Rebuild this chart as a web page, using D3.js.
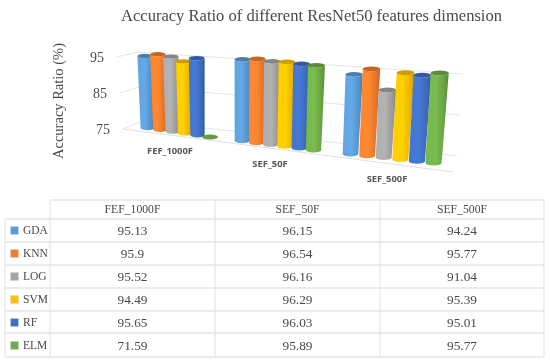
<!DOCTYPE html>
<meta charset="utf-8">
<style>
  html, body { margin: 0; background: #fff; }
  svg { filter: blur(0.35px); }
  text { font-family: "Liberation Serif", serif; fill: #4a4a4a; }
  .cat { font-family: "Open Sans", sans-serif; font-weight: 700; font-size: 9.4px; fill: #555; }
</style>
<script src="https://d3js.org/d3.v7.min.js"></script>
<div id="chart"></div>
<script>
var categories = ["FEF_1000F", "SEF_50F", "SEF_500F"];
var seriesNames = ["GDA", "KNN", "LOG", "SVM", "RF", "ELM"];
var seriesColors = ["#5B9BD5", "#F57D2C", "#A5A5A5", "#FFC000", "#3F6FC4", "#70AD47"];
var GDA = [95.13, 96.15, 94.24];
var KNN = [95.9, 96.54, 95.77];
var LOG = [95.52, 96.16, 91.04];
var SVM = [94.49, 96.29, 95.39];
var RF = [95.65, 96.03, 95.01];
var ELM = [71.59, 95.89, 95.77];
var yTicks = [75, 85, 95];
var series = [GDA, KNN, LOG, SVM, RF, ELM];

var svg = d3.select("#chart").append("svg").attr("width", 550).attr("height", 363);
var defs = svg.append("defs");

// fake 3d: position along the floor, index in group plus group offset
var groupStep = 7.2;
var slot = function(g, s) { return g * groupStep + s; };
var baseX = d3.scaleLinear().domain([0, 5, 7.2, 12.2, 14.4, 19.4]).range([147.5, 210, 242, 313.5, 350.5, 433.5]);
var baseY = d3.scaleLinear().domain([0, 19.4]).range([128, 163]);
var unitPx = d3.scaleLinear().domain([0, 19.4]).range([3.58, 4.33]);
var lean = d3.scaleLinear().domain([0, 19.4]).range([-2.5, 6]);
var radius = d3.scaleLinear().domain([0, 19.4]).range([7.6, 9]);
var floorValue = 75;

// walls
var wallLeftX = d3.scaleLinear().domain([75, 95]).range([123, 117]);
var wallLeftY = d3.scaleLinear().domain([75, 95]).range([129, 57]);
var backLeftX = d3.scaleLinear().domain([75, 95]).range([142, 138]);
var backLeftY = d3.scaleLinear().domain([75, 95]).range([121, 52]);
var backRightX = d3.scaleLinear().domain([75, 95]).range([457, 463]);
var backRightY = d3.scaleLinear().domain([75, 95]).range([156, 74]);

yTicks.forEach(function(t) {
  var line = d3.line()([[wallLeftX(t), wallLeftY(t)], [backLeftX(t), backLeftY(t)], [backRightX(t), backRightY(t)]]);
  svg.append("path").attr("d", line).attr("fill", "none").attr("stroke", "#e4e4e4").attr("stroke-width", 1);
  svg.append("text").attr("x", wallLeftX(t) - 13).attr("y", wallLeftY(t) + 5)
    .attr("text-anchor", "end").attr("font-size", 14).text(t);
});
svg.append("line").attr("x1", 123).attr("y1", 129).attr("x2", 453).attr("y2", 172)
  .attr("stroke", "#e0e0e0").attr("stroke-width", 1);

seriesColors.forEach(function(c, i) {
  var g = defs.append("linearGradient").attr("id", "cyl" + i);
  g.append("stop").attr("offset", "0%").attr("stop-color", d3.color(c).brighter(0.15));
  g.append("stop").attr("offset", "45%").attr("stop-color", d3.color(c).brighter(0.25));
  g.append("stop").attr("offset", "85%").attr("stop-color", d3.color(c).darker(0.25));
  g.append("stop").attr("offset", "100%").attr("stop-color", d3.color(c).darker(0.7));
});

var bars = [];
categories.forEach(function(cat, g) {
  series.forEach(function(vals, s) {
    bars.push({ g: g, s: s, v: vals[g], p: slot(g, s) });
  });
});

var cyl = svg.append("g").selectAll("g").data(bars).enter().append("g");
cyl.each(function(d) {
  var el = d3.select(this);
  var r = radius(d.p), ry = r * 0.28;
  var x0 = baseX(d.p), y0 = baseY(d.p);
  if (d.v <= floorValue) {
    // below the axis minimum: only a flat disc stays on the floor
    el.append("ellipse").attr("cx", x0).attr("cy", y0).attr("rx", r).attr("ry", ry + 0.2)
      .attr("fill", d3.color(seriesColors[d.s]).darker(0.3));
    return;
  }
  var h = d.v - floorValue;
  var x1 = x0 + lean(d.p) * h / 20;
  var y1 = y0 - unitPx(d.p) * h;
  var r0 = r * 0.9;
  var body = "M" + (x1 - r) + "," + y1 + "L" + (x0 - r0) + "," + y0 +
    "A" + r0 + "," + ry + " 0 0 0 " + (x0 + r0) + "," + y0 +
    "L" + (x1 + r) + "," + y1 +
    "A" + r + "," + ry + " 0 0 1 " + (x1 - r) + "," + y1 + "Z";
  el.append("path").attr("d", body).attr("fill", "url(#cyl" + d.s + ")");
  el.append("ellipse").attr("cx", x1).attr("cy", y1).attr("rx", r).attr("ry", ry)
    .attr("fill", d3.color(seriesColors[d.s]).darker(0.6));
});

// category labels under the floor
var catX = d3.scaleOrdinal().domain(categories).range([170, 270, 387]);
var catY = d3.scaleOrdinal().domain(categories).range([154, 167, 182]);
svg.selectAll(".cat").data(categories).enter().append("text").attr("class", "cat")
  .attr("x", function(d) { return catX(d); }).attr("y", function(d) { return catY(d); })
  .attr("text-anchor", "middle").text(function(d) { return d; });

svg.append("text").attr("x", 121).attr("y", 21).attr("textLength", 381).attr("lengthAdjust", "spacingAndGlyphs")
  .attr("font-size", 16.5).text("Accuracy Ratio of different ResNet50 features dimension");
svg.append("text").attr("transform", "translate(63,101) rotate(-90)").attr("text-anchor", "middle")
  .attr("font-size", 14.5).text("Accuracy Ratio (%)");

// data table below the chart
var colEdges = [5, 50, 215, 380, 544];
var rowEdges = [200, 219, 242, 265, 288, 311, 333, 357];
var rowY = d3.scaleBand().domain(seriesNames).range([219, 357]);
var tableLine = "#e6e6e6";

colEdges.slice(1).forEach(function(x) {
  svg.append("line").attr("x1", x).attr("x2", x).attr("y1", 200).attr("y2", 357)
    .attr("stroke", tableLine).attr("stroke-width", 1.3);
});
svg.append("line").attr("x1", 5).attr("x2", 5).attr("y1", 219).attr("y2", 357)
  .attr("stroke", tableLine).attr("stroke-width", 1.3);
rowEdges.forEach(function(y, i) {
  svg.append("line").attr("x1", i == 0 ? 50 : 5).attr("x2", 544).attr("y1", y).attr("y2", y)
    .attr("stroke", tableLine).attr("stroke-width", 1.3);
});
categories.forEach(function(cat, g) {
  svg.append("text").attr("x", (colEdges[g + 1] + colEdges[g + 2]) / 2).attr("y", 213)
    .attr("text-anchor", "middle").attr("font-size", 11.7).text(cat);
});
seriesNames.forEach(function(name, s) {
  var yMid = rowY(name) + rowY.bandwidth() / 2;
  svg.append("rect").attr("x", 10.5).attr("y", yMid - 4).attr("width", 8).attr("height", 8)
    .attr("fill", seriesColors[s]).attr("stroke", "#cfd8e0").attr("stroke-width", 0.5);
  svg.append("text").attr("x", 23).attr("y", yMid + 3.5).attr("font-size", 11.5).text(name);
  categories.forEach(function(cat, g) {
    svg.append("text").attr("x", (colEdges[g + 1] + colEdges[g + 2]) / 2).attr("y", yMid + 4)
      .attr("text-anchor", "middle").attr("font-size", 13.3).text(series[s][g]);
  });
});
</script>
